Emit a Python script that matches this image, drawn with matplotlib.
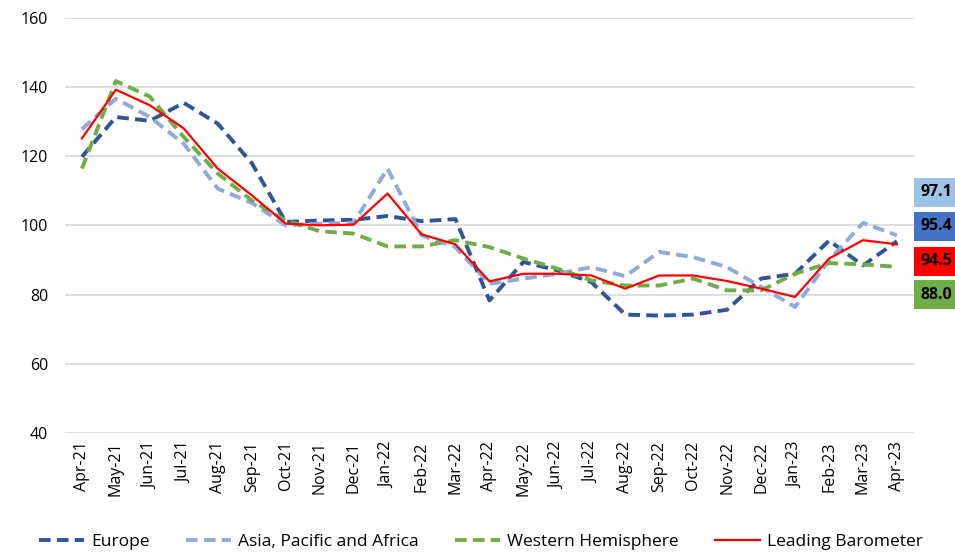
import matplotlib.pyplot as plt

months = ["Apr-21", "May-21", "Jun-21", "Jul-21", "Aug-21", "Sep-21", "Oct-21", "Nov-21",
          "Dec-21", "Jan-22", "Feb-22", "Mar-22", "Apr-22", "May-22", "Jun-22", "Jul-22",
          "Aug-22", "Sep-22", "Oct-22", "Nov-22", "Dec-22", "Jan-23", "Feb-23", "Mar-23", "Apr-23"]

europe = [119.8, 131.3, 130.2, 135.4, 129.4, 118.0, 101.0, 101.4, 101.6, 102.7, 101.2, 101.8,
          78.3, 89.4, 87.0, 83.6, 74.2, 73.9, 74.2, 75.6, 84.6, 86.0, 95.6, 88.4, 95.4]
asia = [127.8, 136.6, 131.3, 123.6, 110.6, 106.5, 100.0, 100.5, 100.7, 116.4, 97.1, 93.7,
        83.1, 84.6, 86.0, 87.9, 85.3, 92.3, 90.8, 87.9, 82.2, 76.4, 89.9, 100.7, 97.1]
western = [116.4, 141.7, 137.2, 125.5, 115.0, 107.2, 101.4, 98.3, 97.6, 93.9, 93.9, 95.7,
           93.7, 90.4, 87.5, 84.1, 82.6, 82.6, 84.6, 81.2, 81.2, 86.0, 89.1, 88.7, 88.0]
leading = [125.1, 139.2, 134.7, 128.0, 116.4, 108.7, 100.5, 100.0, 100.2, 109.2, 97.4, 94.5,
           83.8, 86.0, 86.0, 85.5, 81.7, 85.5, 85.5, 83.9, 81.7, 79.3, 90.4, 95.7, 94.5]

end_labels = ["97.1", "95.4", "94.5", "88.0"]
label_y = [109.5, 99.7, 89.6, 80.0]

c_eu = "#2F5597"
c_as = "#8FAADC"
c_we = "#70AD47"
c_le = "#FF0000"

plt.rcParams['font.family'] = ['Open Sans', 'DejaVu Sans']

fig = plt.figure(figsize=(9.55, 5.55), dpi=100)
ax = fig.add_axes([0.068, 0.22, 0.889, 0.748])

x = range(len(months))
ax.plot(x, europe, color=c_eu, lw=2.8, ls=(0, (3, 1.6)), label="Europe")
ax.plot(x, asia, color=c_as, lw=2.8, ls=(0, (3, 1.6)), label="Asia, Pacific and Africa")
ax.plot(x, western, color=c_we, lw=2.8, ls=(0, (3, 1.6)), label="Western Hemisphere")
ax.plot(x, leading, color=c_le, lw=1.6, label="Leading Barometer")

ax.set_xlim(-0.5, 24.5)
ax.set_ylim(40, 160)
ax.set_yticks(range(40, 161, 20))
ax.set_xticks(list(x))
ax.set_xticklabels(months, rotation=90, fontsize=11.5)
ax.tick_params(axis='y', labelsize=11.5, length=0, pad=12)
ax.tick_params(axis='x', length=0, pad=6)
ax.grid(axis='y', color="#D9D9D9", lw=1.2)
ax.set_axisbelow(True)
for s in ax.spines.values():
    s.set_visible(False)

box_colors = ["#9DC3E6", "#4472C4", "#FF0000", "#70AD47"]
for txt, yv, bc in zip(end_labels, label_y, box_colors):
    ax.annotate(txt, xy=(24.5, yv), xycoords='data', xytext=(5, 0), textcoords='offset points',
                ha='left', va='center', fontsize=11.5, fontweight='bold', color='black',
                bbox=dict(boxstyle='square,pad=0.4', fc=bc, ec='none'), annotation_clip=False)

ax.legend(loc='center', bbox_to_anchor=(0.49, -0.263), ncol=4, frameon=False,
          fontsize=12.5, handlelength=2.6, columnspacing=2.1, handletextpad=0.4)

fig.savefig("out.png", dpi=100)
